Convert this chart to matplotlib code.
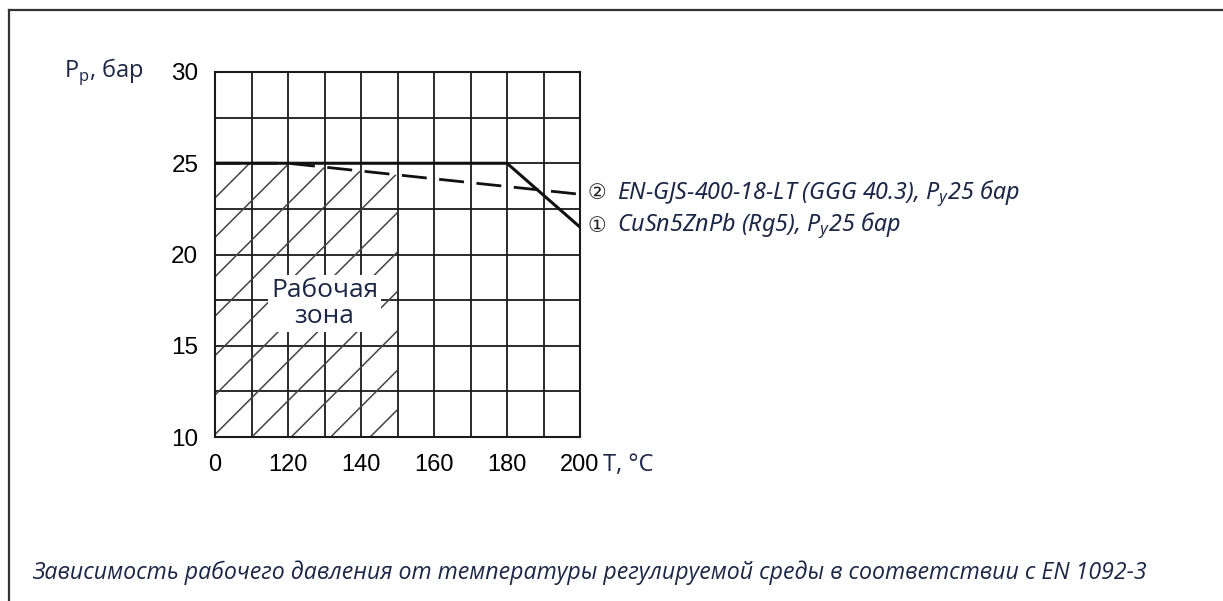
import numpy as np
import matplotlib
matplotlib.use('Agg')
import matplotlib.pyplot as plt
from matplotlib.patches import Polygon
from matplotlib.lines import Line2D

# шкала температуры (ось разорвана между 0 и 120)
tick_T = [0, 120, 140, 160, 180, 200]
tick_labels = ['0', '120', '140', '160', '180', '200']
p_ticks = [10, 15, 20, 25, 30]

# кривые P-T
T_rg5 = [0, 180, 200]
P_rg5 = [25, 25, 21.5]
T_ggg = [0, 120, 200]
P_ggg = [25, 25, 23.3]

# рабочая зона
T_zone = [0, 150]
P_zone_min = 10

lbl_ggg = 'EN-GJS-400-18-LT (GGG 40.3), P$_\\mathregular{у}$25 бар'
lbl_rg5 = 'CuSn5ZnPb (Rg5), P$_\\mathregular{у}$25 бар'
caption = 'Зависимость рабочего давления от температуры регулируемой среды в соответствии с EN 1092-3'

navy = '#1c2745'
tick_pos = np.arange(len(tick_T)) * 2


def pos(T):
    return np.interp(T, tick_T, tick_pos)


fig = plt.figure(figsize=(12.23, 6.01), dpi=100)
ax = fig.add_axes([215/1223, 1-437/601, 365/1223, 365/601])

ax.set_xlim(0, 10)
ax.set_ylim(10, 30)
ax.set_xticks(tick_pos)
ax.set_xticklabels(tick_labels)
ax.set_xticks(np.arange(0, 11), minor=True)
ax.set_yticks(p_ticks)
ax.set_yticks(np.arange(10, 30.1, 2.5), minor=True)
ax.tick_params(which='both', length=0)
ax.tick_params(axis='x', pad=12, labelsize=17)
ax.tick_params(axis='y', pad=12, labelsize=17.5)
for t in ax.get_xticklabels() + ax.get_yticklabels():
    t.set_family('Liberation Sans')
ax.grid(which='both', color='#1a1a1a', lw=1.3)
ax.set_axisbelow(True)
for s in ax.spines.values():
    s.set_linewidth(1.5)
    s.set_color('#1a1a1a')

# штриховка рабочей зоны
xs = np.linspace(pos(T_zone[0]), pos(T_zone[1]), 60)
upper = np.minimum(np.interp(xs, pos(T_ggg), P_ggg), np.interp(xs, pos(T_rg5), P_rg5))
verts = [(xs[0], P_zone_min)] + list(zip(xs, upper)) + [(xs[-1], P_zone_min)]
zone = Polygon(verts, closed=True, fill=False, edgecolor='none')
ax.add_patch(zone)
slope = (365/10) / (365/20)
for x0 in np.arange(0.05 - 12, 6, 1.08):
    ln, = ax.plot([x0, x0 + 12], [10, 10 + 12*slope], color='#444444', lw=1.1, zorder=1)
    ln.set_clip_path(zone)

ax.plot(pos(T_rg5), P_rg5, color='#111111', lw=2.2, zorder=3)
ax.plot(pos(T_ggg), P_ggg, color='#111111', lw=2.0, ls=(0, (9, 4.5)), zorder=3)

ax.text(3, 17.3, 'Рабочая\nзона', ha='center', va='center', fontsize=19,
        family='Open Sans', color=navy, linespacing=1.05, zorder=4,
        bbox=dict(facecolor='white', edgecolor='none', pad=2))

# подписи кривых
for T, P, num, lbl in [(T_ggg, P_ggg, '②', lbl_ggg), (T_rg5, P_rg5, '①', lbl_rg5)]:
    ax.annotate(num, xy=(pos(T[-1]), P[-1]), xytext=(17, 1), textcoords='offset pixels',
                va='center', ha='center', fontsize=15, family='DejaVu Sans', color='#222222',
                annotation_clip=False)
    ax.annotate(lbl, xy=(pos(T[-1]), P[-1]), xytext=(37, 1), textcoords='offset pixels',
                va='center', ha='left', fontsize=16.8, family='Noto Sans', style='italic',
                color=navy, annotation_clip=False)

fig.text(64/1223, 1-72/601, 'P$_\\mathregular{р}$, бар', fontsize=17, family='Open Sans',
         color=navy, va='center', ha='left')
fig.text(603/1223, 1-465/601, 'T, °C', fontsize=17, family='Open Sans',
         color=navy, va='center', ha='left')

fig.text(32/1223, 1-573/601, caption, fontsize=16.7, family='Open Sans', style='italic',
         color=navy, va='center', ha='left')

# рамка
fig.add_artist(Line2D([9/1223, 1], [1-10/601, 1-10/601], color='#333333', lw=1.6))
fig.add_artist(Line2D([9/1223, 9/1223], [0, 1-10/601], color='#333333', lw=1.6))

fig.savefig('out.png', dpi=100, facecolor='white')
